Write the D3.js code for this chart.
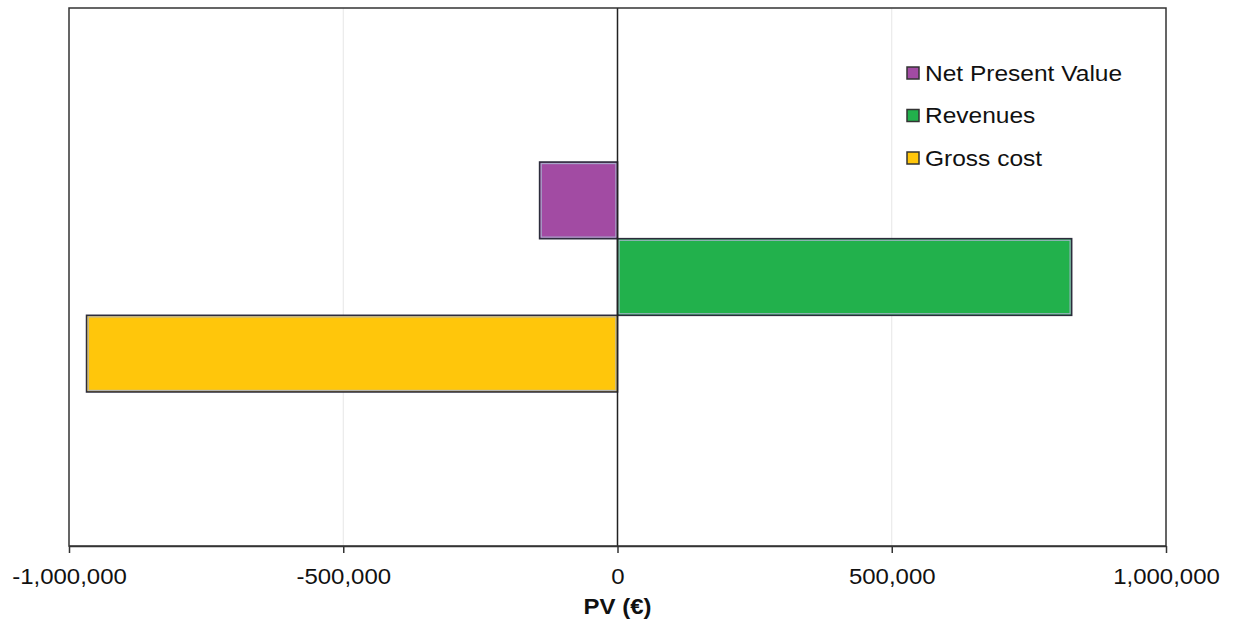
<!DOCTYPE html>
<html>
<head>
<meta charset="utf-8">
<script src="https://cdn.jsdelivr.net/npm/d3@7"></script>
<style>
  html, body { margin: 0; padding: 0; background: #fff; }
  svg { display: block; font-family: "Liberation Sans", Arial, sans-serif; }
</style>
</head>
<body>
<svg id="chart" width="1235" height="621"></svg>
<script>
// Present values of the project components (EUR)
const category = "PV";
const seriesNames = ["Net Present Value", "Revenues", "Gross cost"];
const seriesValues = [-142000, 828000, -968000];
const seriesColors = ["#A24BA3", "#22B14C", "#FFC60B"];
const tickValues = [-1000000, -500000, 0, 500000, 1000000];
const axisTitle = "PV (€)";

const svg = d3.select("#chart");
const W = 1235, H = 621;
const margin = { top: 8, right: 69, bottom: 75, left: 69 };
const plotW = W - margin.left - margin.right;
const plotH = H - margin.top - margin.bottom;
const stretch = "scale(1.09,1)";   // text is drawn slightly wide

const g = svg.append("g").attr("transform", `translate(${margin.left},${margin.top})`);

const x = d3.scaleLinear().domain([-1000000, 1000000]).range([0, plotW]);
const y0 = d3.scaleBand().domain([category]).range([0, plotH]).paddingOuter(0.67).paddingInner(0);
const y1 = d3.scaleBand().domain(seriesNames).range([0, y0.bandwidth()]);

// vertical gridlines
g.append("g").selectAll("line")
  .data(tickValues.filter(v => v !== 0 && Math.abs(v) !== 1000000))
  .join("line")
  .attr("x1", d => x(d)).attr("x2", d => x(d))
  .attr("y1", 0).attr("y2", plotH)
  .attr("stroke", "#e6e6e6").attr("stroke-width", 1);

// bars
const data = seriesNames.map((name, i) => ({ name, value: seriesValues[i], color: seriesColors[i] }));
const bars = g.append("g").selectAll("g").data(data).join("g");
bars.append("rect")
  .attr("x", d => x(Math.min(0, d.value)))
  .attr("y", d => y0(category) + y1(d.name))
  .attr("width", d => Math.abs(x(d.value) - x(0)))
  .attr("height", y1.bandwidth())
  .attr("fill", d => d.color)
  .attr("stroke", "#2c2c3c").attr("stroke-width", 1.6);
bars.append("rect")
  .attr("x", d => x(Math.min(0, d.value)) + 1.6)
  .attr("y", d => y0(category) + y1(d.name) + 1.6)
  .attr("width", d => Math.abs(x(d.value) - x(0)) - 3.2)
  .attr("height", y1.bandwidth() - 3.2)
  .attr("fill", "none")
  .attr("stroke", "#a9b4cf").attr("stroke-width", 1);

// zero line
g.append("line")
  .attr("x1", x(0)).attr("x2", x(0))
  .attr("y1", 0).attr("y2", plotH)
  .attr("stroke", "#222").attr("stroke-width", 1.5);

// plot frame
g.append("rect")
  .attr("x", 0).attr("y", 0).attr("width", plotW).attr("height", plotH)
  .attr("fill", "none").attr("stroke", "#333").attr("stroke-width", 1.5);

// x axis
const xAxis = d3.axisBottom(x)
  .tickValues(tickValues)
  .tickSizeInner(7).tickSizeOuter(0).tickPadding(0)
  .tickFormat(d => d3.format(",")(d).replace("−", "-"));
const ax = g.append("g").attr("transform", `translate(0,${plotH})`).call(xAxis);
ax.select(".domain").attr("stroke", "#333").attr("stroke-width", 1.5);
ax.selectAll(".tick line").attr("stroke", "#333").attr("stroke-width", 1.5);
ax.selectAll(".tick text")
  .attr("y", 0).attr("dy", null)
  .attr("transform", `translate(0,38) ${stretch}`)
  .attr("font-size", 22).attr("fill", "#111")
  .style("font-family", "'Liberation Sans', Arial, sans-serif");

// axis title
svg.append("text")
  .attr("transform", `translate(${margin.left + x(0)},614) ${stretch}`)
  .attr("text-anchor", "middle")
  .attr("font-size", 22).attr("font-weight", "bold").attr("fill", "#111")
  .text(axisTitle);

// legend
const legend = svg.append("g").attr("transform", "translate(907,73)");
const li = legend.selectAll("g").data(data).join("g")
  .attr("transform", (d, i) => `translate(0,${i * 42.5})`);
li.append("rect")
  .attr("x", 0).attr("y", -6).attr("width", 12).attr("height", 12)
  .attr("fill", d => d.color).attr("stroke", "#333").attr("stroke-width", 1.5);
li.append("text")
  .attr("transform", "translate(18,0) scale(1.115,1)")
  .attr("dy", "0.36em")
  .attr("font-size", 22).attr("fill", "#111")
  .text(d => d.name);
</script>
</body>
</html>
